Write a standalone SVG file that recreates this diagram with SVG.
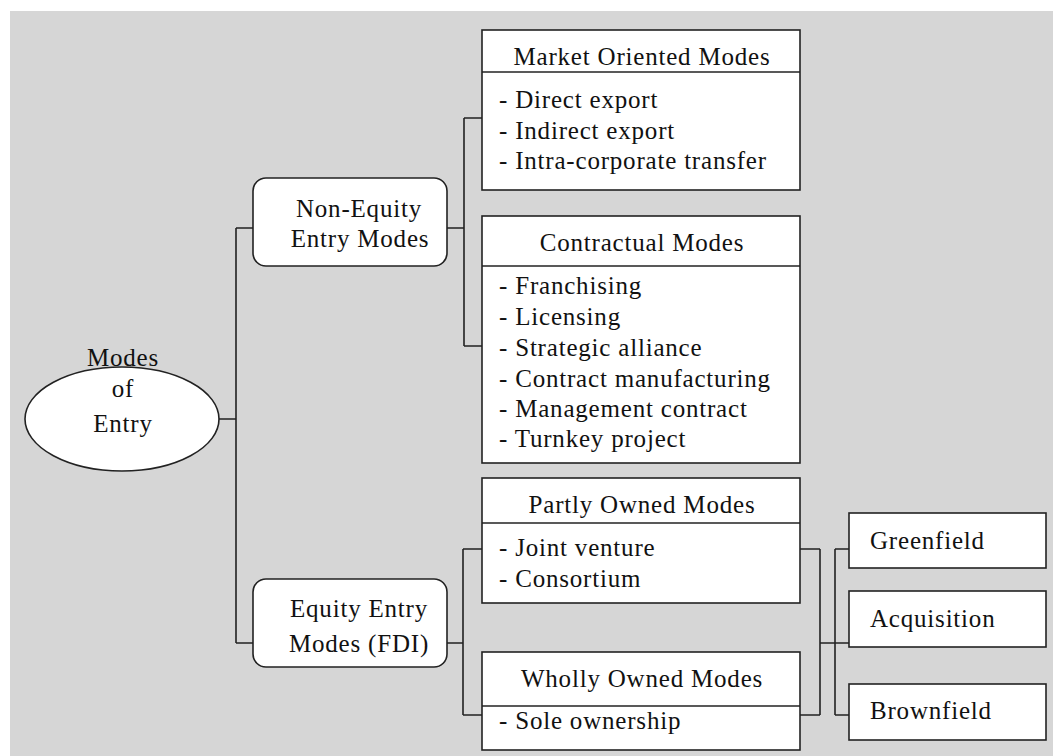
<svg xmlns="http://www.w3.org/2000/svg" width="1053" height="756" viewBox="0 0 1053 756">
<style>
text{font-family:"Liberation Serif","Times New Roman",serif;font-size:25px;letter-spacing:0.8px;fill:#111}
.c{text-anchor:middle}
.box{fill:#fff;stroke:#222;stroke-width:1.6}
.ln{fill:none;stroke:#222;stroke-width:1.6}
</style>
<rect x="0" y="0" width="1053" height="756" fill="#fff"/>
<rect x="10" y="11" width="1043" height="745" fill="#d6d6d6"/>
<g id="connectors" class="ln">
<path d="M218 419H236M236 228V643M236 228H253M236 643H253"/>
<path d="M447 228H464M464 118V346M464 118H482M464 346H482"/>
<path d="M447 643H463M463 549V715M463 549H482M463 715H482"/>
<path d="M800 549H820M800 715H820M820 549V715M820 643H849"/>
<path d="M835 549V715M835 549H849M835 715H849"/>
</g>
<g id="root">
<ellipse class="box" cx="122" cy="419" rx="97" ry="52"/>
<text class="c" x="123" y="366">Modes</text>
<text class="c" x="123" y="397">of</text>
<text class="c" x="123" y="432">Entry</text>
</g>
<g id="nonequity">
<rect class="box" x="253" y="178" width="194" height="88" rx="13"/>
<text class="c" x="359" y="217">Non-Equity</text>
<text class="c" x="360" y="247">Entry Modes</text>
</g>
<g id="equity">
<rect class="box" x="253" y="579" width="194" height="88" rx="13"/>
<text class="c" x="359" y="617">Equity Entry</text>
<text class="c" x="359" y="652">Modes (FDI)</text>
</g>
<g id="market">
<rect class="box" x="482" y="30" width="318" height="160"/>
<line class="ln" x1="482" y1="72" x2="800" y2="72"/>
<text class="c" x="642" y="65">Market Oriented Modes</text>
<text x="499" y="108">- Direct export</text>
<text x="499" y="139">- Indirect export</text>
<text x="499" y="169">- Intra-corporate transfer</text>
</g>
<g id="contractual">
<rect class="box" x="482" y="216" width="318" height="247"/>
<line class="ln" x1="482" y1="266" x2="800" y2="266"/>
<text class="c" x="642" y="251">Contractual Modes</text>
<text x="499" y="294">- Franchising</text>
<text x="499" y="325">- Licensing</text>
<text x="499" y="356">- Strategic alliance</text>
<text x="499" y="387">- Contract manufacturing</text>
<text x="499" y="417">- Management contract</text>
<text x="499" y="447">- Turnkey project</text>
</g>
<g id="partly">
<rect class="box" x="482" y="478" width="318" height="125"/>
<line class="ln" x1="482" y1="523" x2="800" y2="523"/>
<text class="c" x="642" y="513">Partly Owned Modes</text>
<text x="499" y="556">- Joint venture</text>
<text x="499" y="587">- Consortium</text>
</g>
<g id="wholly">
<rect class="box" x="482" y="652" width="318" height="98"/>
<line class="ln" x1="482" y1="706" x2="800" y2="706"/>
<text class="c" x="642" y="687">Wholly Owned Modes</text>
<text x="499" y="729">- Sole ownership</text>
</g>
<g id="greenfield">
<rect class="box" x="849" y="513" width="197" height="55"/>
<text x="870" y="549">Greenfield</text>
</g>
<g id="acquisition">
<rect class="box" x="849" y="591" width="197" height="56"/>
<text x="870" y="627">Acquisition</text>
</g>
<g id="brownfield">
<rect class="box" x="849" y="684" width="197" height="56"/>
<text x="870" y="719">Brownfield</text>
</g>
</svg>
